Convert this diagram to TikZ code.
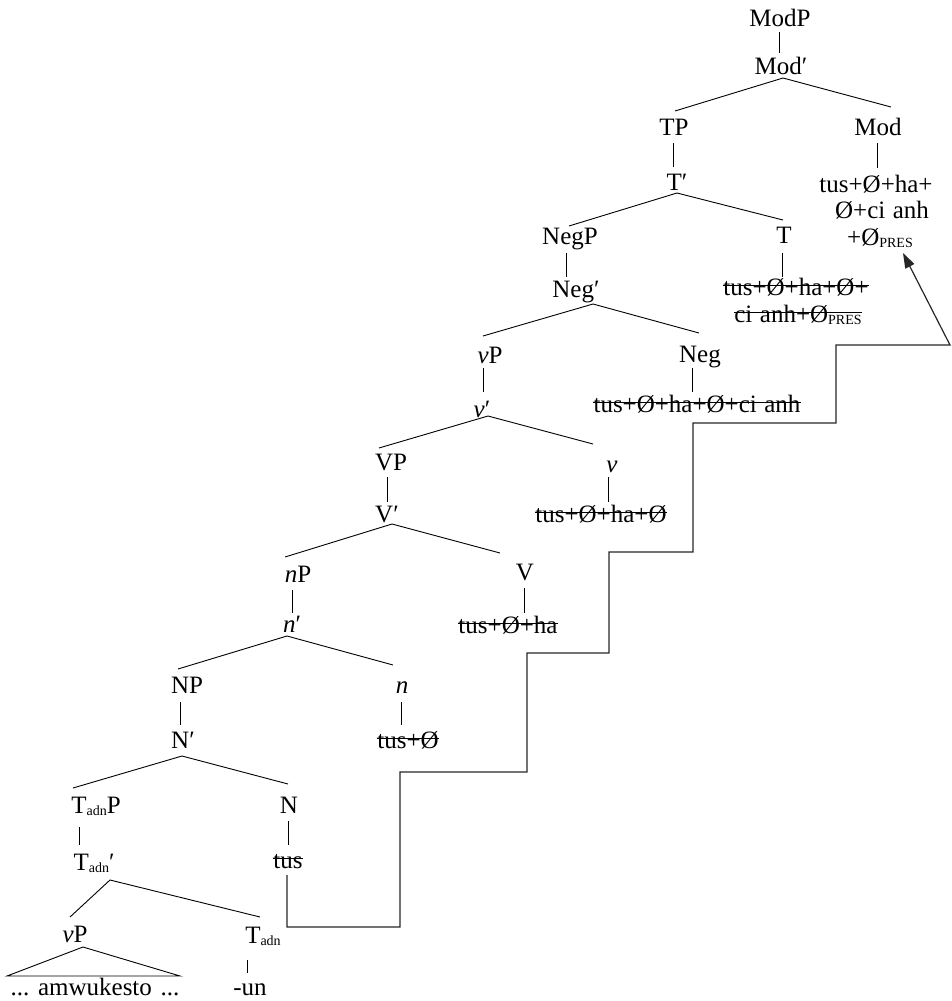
\documentclass[tikz,border=0pt]{standalone}
\usepackage{fontspec}
\setmainfont{Liberation Serif}
\usetikzlibrary{arrows.meta}

% lowered small subscript (T_adn, Ø_PRES)
\newcommand\lo[1]{\raisebox{-2.5pt}{\fontsize{14}{14}\selectfont #1}}
\newcommand\gap{\hspace{0.3em}}

\begin{document}
\begin{tikzpicture}[x=1pt,y=-1pt,
  lab/.style={anchor=base, inner sep=0pt, font=\fontsize{25}{28}\selectfont},
  branch/.style={line width=0.9pt},
  strikeline/.style={line width=0.9pt},
  stair/.style={line width=1.2pt, black!85, line join=miter}]
\useasboundingbox (0,0) rectangle (952,1001);

% ---- labels ----
\node[lab] (modp)    at (780,27)  {ModP};
\node[lab] (modbar)  at (781,74)  {Mod′};
\node[lab] (tp)      at (674,135) {TP};
\node[lab] (mod)     at (878,135) {Mod};
\node[lab] (modw1)   at (876,192) {tus+Ø+ha+};
\node[lab] (modw2)   at (882,218) {Ø+ci\gap anh};
\node[lab] (modw3)   at (880,245) {+Ø\lo{PRES}};
\node[lab] (tbar)    at (677,190) {T′};
\node[lab] (negp)    at (570,244) {NegP};
\node[lab] (t)       at (784,243) {T};
\node[lab] (tw1)     at (796,295) {tus+Ø+ha+Ø+};
\node[lab] (tw2)     at (798,322) {ci\gap anh+Ø\lo{PRES}};
\node[lab] (negbar)  at (576,297) {Neg′};
\node[lab] (vp)      at (490,363) {\textit{v}P};
\node[lab] (neg)     at (700,362) {Neg};
\node[lab] (negw)    at (697,412) {tus+Ø+ha+Ø+ci\gap anh};
\node[lab] (vbar)    at (482,417) {\textit{v}′};
\node[lab] (VP)      at (391,470) {VP};
\node[lab] (v)       at (612,472) {\textit{v}};
\node[lab] (vw)      at (601,522) {tus+Ø+ha+Ø};
\node[lab] (Vbar)    at (387,522) {V′};
\node[lab] (np)      at (298,582) {\textit{n}P};
\node[lab] (V)       at (525,580) {V};
\node[lab] (Vw)      at (508,633) {tus+Ø+ha};
\node[lab] (nbar)    at (292,632) {\textit{n}′};
\node[lab] (NP)      at (187,693) {NP};
\node[lab] (n)       at (402,693) {\textit{n}};
\node[lab] (nw)      at (408,748) {tus+Ø};
\node[lab] (Nbar)    at (183,748) {N′};
\node[lab] (tadnp)   at (96,813)  {T\lo{adn}P};
\node[lab] (N)       at (289,813) {N};
\node[lab] (Nw)      at (288,868) {tus};
\node[lab] (tadnbar) at (94,870)  {T\lo{adn}′};
\node[lab] (vpb)     at (75,942)  {\textit{v}P};
\node[lab] (tadn)    at (263,943) {T\lo{adn}};
\node[lab] (amw)     at (95,995)  {...\hspace{0.35em}amwukesto\hspace{0.35em}...};
\node[lab] (un)      at (250,995) {-un};

% ---- struck-through copies ----
\foreach \s in {tw1,tw2,negw,vw,Vw,nw,Nw}
  \draw[strikeline] ([yshift=9.5pt]\s.base west) -- ([yshift=9.5pt]\s.base east);

% ---- unary stems ----
\draw[branch] ([shift={(-1,5)}]modp.base)    -- ([shift={(-2,-21)}]modbar.base);
\draw[branch] ([shift={(-1,8)}]tp.base)      -- ([shift={(-4,-23)}]tbar.base);
\draw[branch] ([shift={(-1,8)}]mod.base)     -- ([shift={(1,-24)}]modw1.base);
\draw[branch] ([shift={(-4,9)}]negp.base)    -- ([shift={(-10,-20)}]negbar.base);
\draw[branch] ([shift={(-2,10)}]t.base)      -- ([shift={(-14,-18)}]tw1.base);
\draw[branch] ([shift={(-7,5)}]vp.base)      -- ([shift={(1,-25)}]vbar.base);
\draw[branch] ([shift={(-8,6)}]neg.base)     -- ([shift={(-5,-20)}]negw.base);
\draw[branch] ([shift={(-4,7)}]VP.base)      -- ([shift={(0,-20)}]Vbar.base);
\draw[branch] ([shift={(-4,5)}]v.base)       -- ([shift={(7,-20)}]vw.base);
\draw[branch] ([shift={(-6,8)}]np.base)      -- ([shift={(0,-19)}]nbar.base);
\draw[branch] ([shift={(-1,8)}]V.base)       -- ([shift={(16,-20)}]Vw.base);
\draw[branch] ([shift={(-7,9)}]NP.base)      -- ([shift={(-3,-23)}]Nbar.base);
\draw[branch] ([shift={(-1,9)}]n.base)       -- ([shift={(-7,-23)}]nw.base);
\draw[branch] ([shift={(-17,14)}]tadnp.base) -- ([shift={(-15,-25)}]tadnbar.base);
\draw[branch] ([shift={(-1,8)}]N.base)       -- ([shift={(0,-23)}]Nw.base);
\draw[branch] ([shift={(-16,17)}]tadn.base)  -- ([shift={(-3,-22)}]un.base);

% ---- binary branches ----
\draw[branch] ([shift={(1,-24)}]tp.base) -- ([shift={(2,4)}]modbar.base) -- ([shift={(13,-28)}]mod.base);
\draw[branch] ([shift={(-1,-18)}]negp.base) -- ([shift={(0,3)}]tbar.base) -- ([shift={(-1,-23)}]t.base);
\draw[branch] ([shift={(-7,-27)}]vp.base) -- ([shift={(17,7)}]negbar.base) -- ([shift={(-1,-29)}]neg.base);
\draw[branch] ([shift={(-12,-22)}]VP.base) -- ([shift={(6,-1)}]vbar.base) -- ([shift={(-19,-28)}]v.base);
\draw[branch] ([shift={(-13,-25)}]np.base) -- ([shift={(5,2)}]Vbar.base) -- ([shift={(-25,-27)}]V.base);
\draw[branch] ([shift={(-9,-24)}]NP.base) -- ([shift={(-5,4)}]nbar.base) -- ([shift={(-9,-28)}]n.base);
\draw[branch] ([shift={(-23,-25)}]tadnp.base) -- ([shift={(-1,8)}]Nbar.base) -- ([shift={(-1,-29)}]N.base);
\draw[branch] ([shift={(-5,-25)}]vpb.base) -- ([shift={(16,10)}]tadnbar.base) -- ([shift={(-3,-26)}]tadn.base);

% ---- triangle over the vP phrase ----
\draw[branch] ([shift={(-88,-19)}]amw.base) -- ([shift={(8,5)}]vpb.base) -- ([shift={(85,-19)}]amw.base) -- cycle;

% ---- head movement path ----
\draw[stair, -{Triangle[length=15pt,width=10pt]}]
  ([shift={(-1,7)}]Nw.base) -- ++(0,52) -- ++(113,0) -- ++(0,-155)
  -- ++(127,0) -- ++(0,-119) -- ++(82,0) -- ++(0,-101)
  -- ++(84,0) -- ++(0,-129) -- ++(143,0) -- ++(0,-78)
  -- ++(114,0) -- ([shift={(23,8)}]modw3.base);
\end{tikzpicture}
\end{document}
